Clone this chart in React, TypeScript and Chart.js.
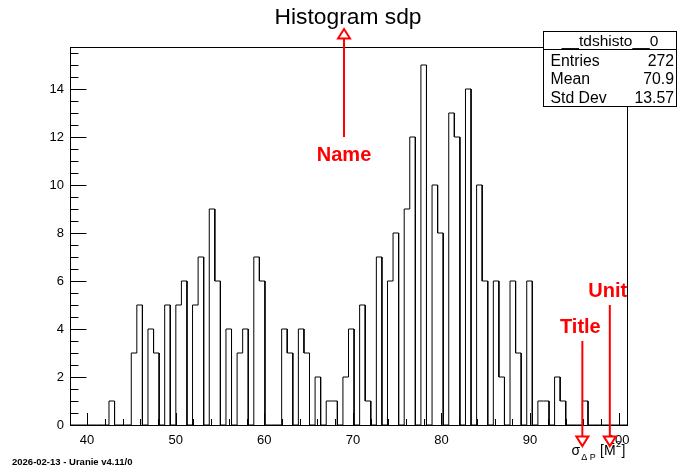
import { useEffect, useRef } from 'react';
import { Chart, registerables } from 'chart.js';

Chart.register(...registerables);

const FONT = '"Liberation Sans", Arial, Helvetica, sans-serif';

// axe x : 100 bins entre X_MIN et X_MAX
const X_MIN = 38.07;
const X_MAX = 100.94;
const Y_MAX = 15.75;
const X_TICKS = [40, 50, 60, 70, 80, 90, 100];
const Y_TICKS = [0, 2, 4, 6, 8, 10, 12, 14];

// contenu des bins
const counts = [
  0, 0, 0, 0, 0, 0, 0, 1, 0, 0,
  0, 3, 5, 0, 4, 3, 0, 5, 0, 5,
  6, 0, 5, 7, 0, 9, 6, 0, 4, 0,
  3, 4, 0, 7, 6, 0, 0, 0, 4, 3,
  0, 4, 3, 0, 2, 0, 1, 1, 0, 2,
  4, 0, 5, 1, 0, 7, 0, 6, 8, 0,
  9, 12, 0, 15, 0, 10, 8, 0, 13, 12,
  0, 14, 0, 10, 6, 0, 6, 2, 0, 6,
  3, 0, 6, 0, 1, 1, 0, 2, 1, 0,
  0, 0, 1, 0, 0, 0, 0, 0, 0, 0,
];

const TITLE = 'Histogram sdp';
const STATS_NAME = '__tdshisto__0';
const STATS_LABELS = ['Entries', 'Mean', 'Std Dev'];
const STATS_VALUES = ['272', '70.9', '13.57'];
const FOOTER = '2026-02-13 - Uranie v4.11/0';

// annotations rouges : texte, x, y du texte, début de flèche, pointe
const NOTES = [
  { text: 'Name', x: 69, textY: 11, from: 12, tip: 16.5, up: true },
  { text: 'Title', x: 95.9, textY: 3.82, from: 3.5, tip: -0.88, up: false },
  { text: 'Unit', x: 99, textY: 5.32, from: 5.0, tip: -0.88, up: false },
];

function drawArrow(ctx: CanvasRenderingContext2D, x: number, y0: number, tip: number, up: boolean) {
  const h = 9.5;
  const base = up ? tip + h : tip - h;
  ctx.beginPath();
  ctx.moveTo(x, y0);
  ctx.lineTo(x, base);
  ctx.stroke();
  ctx.beginPath();
  ctx.moveTo(x - 6, base);
  ctx.lineTo(x + 6, base);
  ctx.lineTo(x, tip);
  ctx.closePath();
  ctx.fillStyle = '#fff';
  ctx.fill();
  ctx.stroke();
}

const rootDecor = {
  id: 'rootDecor',
  afterDraw(chart: any) {
    const { ctx, chartArea: a } = chart;
    const xs = chart.scales.x;
    const ys = chart.scales.y;
    ctx.save();
    ctx.strokeStyle = '#000';
    ctx.lineWidth = 1;

    // cadre
    ctx.strokeRect(Math.round(a.left) + 0.5, Math.round(a.top) + 0.5, a.right - a.left, a.bottom - a.top);

    // graduations x (vers l'intérieur)
    ctx.beginPath();
    for (let v = 40; v <= 100; v += 2) {
      const px = Math.round(xs.getPixelForValue(v)) + 0.5;
      const len = v % 10 === 0 ? 12 : 6;
      ctx.moveTo(px, a.bottom);
      ctx.lineTo(px, a.bottom - len);
    }
    // graduations y
    for (let v = 0; v <= 15.5; v += 0.5) {
      const py = Math.round(ys.getPixelForValue(v)) + 0.5;
      const len = v % 2 === 0 ? 16.5 : 8.5;
      ctx.moveTo(a.left, py);
      ctx.lineTo(a.left + len, py);
    }
    ctx.stroke();

    // titre
    ctx.fillStyle = '#000';
    ctx.font = `22.8px ${FONT}`;
    ctx.textAlign = 'center';
    ctx.textBaseline = 'alphabetic';
    ctx.fillText(TITLE, chart.width / 2, 23.5);

    // boîte de stats
    const bx = 543.5, by = 31.5, bw = 133, bh = 75;
    ctx.fillStyle = '#fff';
    ctx.fillRect(bx, by, bw, bh);
    ctx.strokeRect(bx, by, bw, bh);
    ctx.beginPath();
    ctx.moveTo(bx, 49.5);
    ctx.lineTo(bx + bw, 49.5);
    ctx.stroke();
    ctx.fillStyle = '#000';
    ctx.font = `15.5px ${FONT}`;
    ctx.textAlign = 'center';
    ctx.fillText(STATS_NAME, bx + bw / 2, 46);
    ctx.font = `15.8px ${FONT}`;
    STATS_LABELS.forEach((lab, i) => {
      const yb = 65.5 + i * 18.75;
      ctx.textAlign = 'left';
      ctx.fillText(lab, 550.5, yb);
      ctx.textAlign = 'right';
      ctx.fillText(STATS_VALUES[i], 674, yb);
    });

    // titre d'axe : sigma_{Delta P} [M^2]
    ctx.textAlign = 'left';
    ctx.font = `14px ${FONT}`;
    let cx = 571.5;
    ctx.fillText('σ', cx, 455);
    cx += ctx.measureText('σ').width + 1;
    ctx.font = `9px ${FONT}`;
    ctx.fillText('Δ P', cx, 460);
    ctx.font = `14px ${FONT}`;
    cx = 600;
    ctx.fillText('[M', cx, 455);
    cx += ctx.measureText('[M').width + 0.5;
    ctx.font = `9px ${FONT}`;
    ctx.fillText('2', cx, 447);
    cx += ctx.measureText('2').width + 0.5;
    ctx.font = `14px ${FONT}`;
    ctx.fillText(']', cx, 455);

    // pied de page
    ctx.font = `bold 9.5px ${FONT}`;
    ctx.fillText(FOOTER, 12, 465);

    // annotations
    ctx.strokeStyle = '#ff0000';
    ctx.lineWidth = 2;
    NOTES.forEach((n) => {
      const px = xs.getPixelForValue(n.x);
      drawArrow(ctx, px, ys.getPixelForValue(n.from), ys.getPixelForValue(n.tip), n.up);
      ctx.fillStyle = '#ff0000';
      ctx.font = `bold 20px ${FONT}`;
      ctx.textAlign = 'center';
      ctx.fillText(n.text, px - (n.up ? 0 : 2), ys.getPixelForValue(n.textY));
    });

    ctx.restore();
  },
};

export default function App() {
  const canvasRef = useRef<HTMLCanvasElement>(null);
  const chartRef = useRef<Chart | null>(null);

  useEffect(() => {
    if (!canvasRef.current) return;
    if (chartRef.current) chartRef.current.destroy();

    // contour en escalier du histogramme
    const binW = (X_MAX - X_MIN) / counts.length;
    const pts: { x: number; y: number }[] = [];
    counts.forEach((c, i) => {
      pts.push({ x: X_MIN + i * binW, y: c });
      pts.push({ x: X_MIN + (i + 1) * binW, y: c });
    });
    pts.push({ x: X_MAX, y: 0 });

    chartRef.current = new Chart(canvasRef.current, {
      type: 'line',
      data: {
        datasets: [
          {
            label: STATS_NAME,
            data: pts,
            borderColor: '#000',
            borderWidth: 1,
            pointRadius: 0,
            fill: false,
            tension: 0,
          },
        ],
      },
      options: {
        animation: false,
        responsive: false,
        layout: { padding: { left: 0, top: 47, right: 69, bottom: 0 } },
        plugins: {
          legend: { display: false },
          title: { display: false },
          tooltip: { enabled: false },
        },
        scales: {
          x: {
            type: 'linear',
            min: X_MIN,
            max: X_MAX,
            grid: { display: false, drawTicks: false },
            border: { display: false },
            ticks: {
              color: '#000',
              padding: 8,
              maxRotation: 0,
              autoSkip: false,
              font: { family: FONT, size: 13 },
            },
            afterBuildTicks: (s: any) => {
              s.ticks = X_TICKS.map((v) => ({ value: v }));
            },
            afterFit: (s: any) => {
              s.height = 47;
            },
          },
          y: {
            min: 0,
            max: Y_MAX,
            grid: { display: false, drawTicks: false },
            border: { display: false },
            ticks: {
              color: '#000',
              padding: 6,
              font: { family: FONT, size: 13 },
            },
            afterBuildTicks: (s: any) => {
              s.ticks = Y_TICKS.map((v) => ({ value: v }));
            },
            afterFit: (s: any) => {
              s.width = 70;
            },
          },
        },
      },
      plugins: [rootDecor],
    });

    return () => {
      if (chartRef.current) {
        chartRef.current.destroy();
        chartRef.current = null;
      }
    };
  }, []);

  return (
    <div style={{ position: 'fixed', left: 0, top: 0, width: 696, height: 472, background: '#fff' }}>
      <canvas ref={canvasRef} width={696} height={472} style={{ display: 'block' }}></canvas>
    </div>
  );
}
